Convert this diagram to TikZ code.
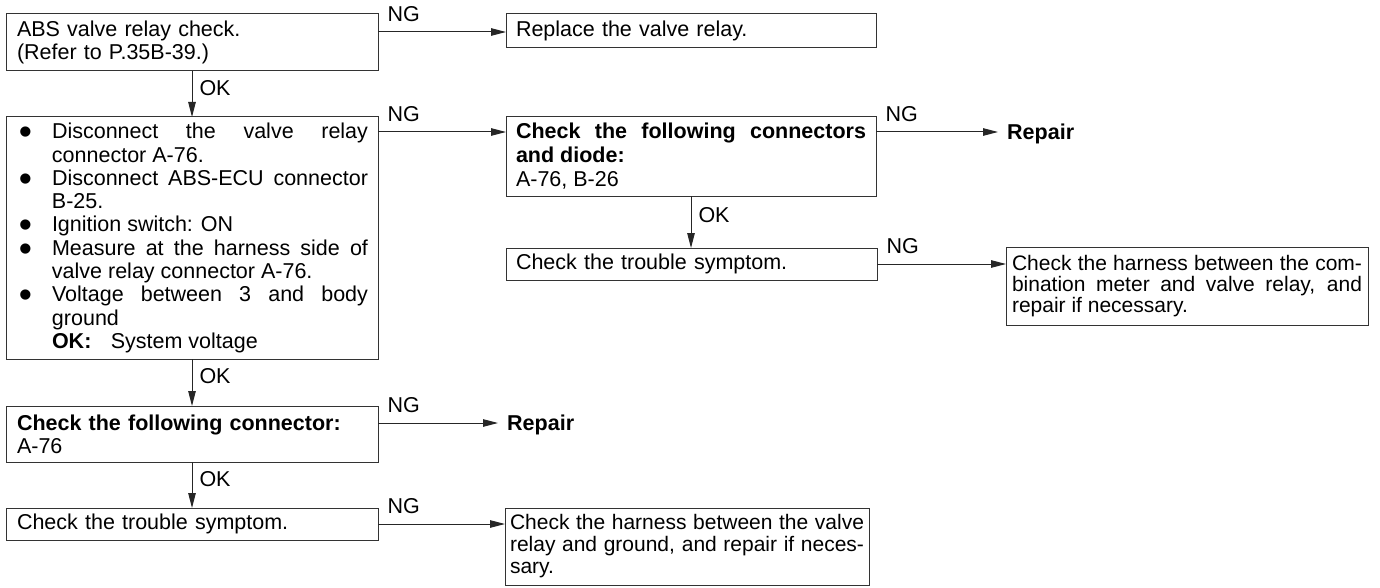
\documentclass[tikz,border=0pt]{standalone}
\usepackage{graphicx}
\usepackage{fontspec}
\setmainfont{Liberation Sans}
\usetikzlibrary{arrows.meta,calc}
\setlength{\parindent}{0pt}
\tolerance=10000
\hyphenpenalty=10000
\exhyphenpenalty=10000
\newcommand{\bitem}[1]{\noindent\hangindent=36pt\hangafter=1\makebox[36pt][l]{\hspace{3pt}\raisebox{-6pt}[0pt][0pt]{\scalebox{1.75}{•}}}#1\par}
\tikzset{
  box/.style={draw=black!80, line width=1pt, inner ysep=0pt, inner xsep=10pt, outer sep=0pt,
    anchor=north west, align=justify, font=\fontsize{21.5}{23.3}\selectfont},
  arr/.style={draw=black!85, line width=1pt, -{Triangle[length=15pt,width=7.5pt]}},
  lab/.style={inner sep=0pt, text depth=0pt, font=\fontsize{21.5}{23.3}\selectfont},
  ng/.style={lab, at start, anchor=south west, xshift=9pt, yshift=10pt},
  ok/.style={lab, pos=0.36, anchor=west, xshift=7pt},
  rep/.style={anchor=west, inner xsep=9pt, inner ysep=0pt, text height=15.5pt, text depth=0pt,
    font=\fontsize{21.5}{23.3}\selectfont\bfseries}
}
\begin{document}
\begin{tikzpicture}[x=1pt,y=-1pt]
\useasboundingbox[fill=white] (0,0) rectangle (1380,588);

% left column
\node[box, align=left, minimum width=372pt, minimum height=57pt, text width=350pt, inner xsep=11pt] (b1) at (6,14)
  {ABS valve relay check.\\(Refer to P.35B-39.)};
\node[box, minimum width=372pt, minimum height=242pt, text width=352pt] (b3) at (6,117)
  {\bitem{Disconnect the valve relay\break connector A-76.}
   \bitem{Disconnect ABS-ECU connector\break B-25.}
   \bitem{Ignition switch: ON}
   \bitem{Measure at the harness side of\break valve relay connector A-76.}
   \bitem{Voltage between 3 and body\break ground\hfill\break\textbf{OK:}\hspace{0.9em}System voltage}};
\node[box, align=left, minimum width=372pt, minimum height=56pt, text width=350pt, inner xsep=11pt] (b7) at (6,406)
  {\textbf{Check the following connector:}\\A-76};
\node[box, align=left, minimum width=372pt, minimum height=32pt, text width=350pt, inner xsep=11pt] (b8) at (6,508)
  {Check the trouble symptom.};

% middle column
\node[box, align=left, minimum width=370pt, minimum height=34pt, text width=350pt] (b2) at (506,14)
  {Replace the valve relay.};
\node[box, minimum width=370pt, minimum height=79pt, text width=350pt, font=\fontsize{21.5}{24}\selectfont] (b4) at (506,117)
  {\textbf{Check the following connectors\break and diode:}\hfill\break A-76, B-26};
\node[box, align=left, minimum width=371pt, minimum height=32pt, text width=351pt] (b5) at (506,248)
  {Check the trouble symptom.};
\node[box, minimum width=364pt, minimum height=77pt, text width=354pt, inner xsep=5pt, font=\fontsize{21}{22}\selectfont] (b9) at (505,508)
  {Check the harness between the valve\break relay and ground, and repair if neces-\break sary.};

% right column
\node[box, minimum width=362pt, minimum height=78pt, text width=350pt, inner xsep=6pt, font=\fontsize{21}{21.3}\selectfont] (b6) at (1006,247)
  {Check the harness between the com-\break bination meter and valve relay, and\break repair if necessary.};
\node[rep] (r1) at (998,132) {Repair};
\node[rep] (r2) at (498,423) {Repair};

% connectors
\coordinate (c1) at ([yshift=-18pt]b1.north east);
\draw[arr] (c1) -- node[ng]{NG} (c1 -| b2.west);
\draw[arr] (b1.south) -- node[ok]{OK} (b3.north);

\coordinate (c3) at ([yshift=-15pt]b3.north east);
\draw[arr] (c3) -- node[ng]{NG} (c3 -| b4.west);
\coordinate (c4) at ([yshift=-15pt]b4.north east);
\draw[arr] (c4) -- node[ng]{NG} (c4 -| r1.west);
\draw[arr] (b4.south) -- node[ok]{OK} (b4.south |- b5.north);
\draw[arr] (b5.east) -- node[ng]{NG} (b5.east -| b6.west);

\draw[arr] (b3.south) -- node[ok]{OK} (b7.north);
\coordinate (c7) at ([yshift=-17pt]b7.north east);
\draw[arr] (c7) -- node[ng]{NG} (c7 -| r2.west);
\draw[arr] (b7.south) -- node[ok]{OK} (b8.north);
\draw[arr] (b8.east) -- node[ng]{NG} (b8.east -| b9.west);
\end{tikzpicture}
\end{document}
